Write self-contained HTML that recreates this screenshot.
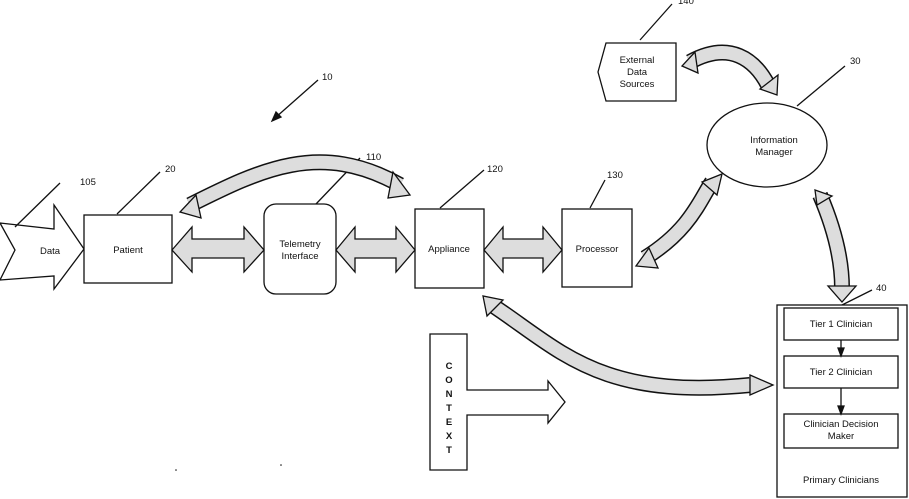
<!DOCTYPE html>
<html><head><meta charset="utf-8"><style>
html,body{margin:0;padding:0;background:#fff}
svg{display:block;font-family:"Liberation Sans",sans-serif}
text{font-size:9.5px;fill:#111}
</style></head><body>
<svg width="909" height="499" viewBox="0 0 909 499" xmlns="http://www.w3.org/2000/svg">
<g stroke="#111" stroke-width="1.3" fill="none">
<!-- Data arrow -->
<polygon points="0,223 54,229 54,205 84,249 54,289 54,276 0,280 15,250" fill="#fff"/>
<!-- leader lines -->
<line x1="15" y1="227" x2="60" y2="183"/>
<line x1="117" y1="214" x2="160" y2="172"/>
<line x1="316" y1="204" x2="360" y2="158"/>
<line x1="440" y1="208" x2="484" y2="170"/>
<line x1="590" y1="208" x2="605" y2="180"/>
<line x1="797" y1="106" x2="845" y2="66"/>
<line x1="840" y1="306" x2="872" y2="290"/>
<line x1="640" y1="40" x2="672" y2="4"/>
<line x1="318" y1="80" x2="275" y2="118"/>
<polygon points="272,121 276,112 281,117" fill="#111"/>
<!-- boxes -->
<rect x="84" y="215" width="88" height="68" fill="#fff"/>
<rect x="264" y="204" width="72" height="90" rx="12" fill="#fff"/>
<rect x="415" y="209" width="69" height="79" fill="#fff"/>
<rect x="562" y="209" width="70" height="78" fill="#fff"/>
<ellipse cx="767" cy="145" rx="60" ry="42" fill="#fff"/>
<polygon points="606,43 676,43 676,101 606,101 598,72" fill="#fff"/>
<rect x="777" y="305" width="130" height="192" fill="#fff"/>
<rect x="784" y="308" width="114" height="32" fill="#fff"/>
<rect x="784" y="356" width="114" height="32" fill="#fff"/>
<rect x="784" y="414" width="114" height="34" fill="#fff"/>
<line x1="841" y1="340" x2="841" y2="350"/>
<polygon points="838,348 844,348 841,356" fill="#111"/>
<line x1="841" y1="388" x2="841" y2="408"/>
<polygon points="838,406 844,406 841,414" fill="#111"/>
<!-- CONTEXT T -->
<polygon points="430,334 467,334 467,390 548,390 548,381 565,402 548,423 548,415 467,415 467,470 430,470" fill="#fff"/>
<!-- straight double arrows -->
<polygon points="172,250 192,227 192,239 244,239 244,227 264,250 244,272 244,258 192,258 192,272" fill="#ddd"/>
<polygon points="336,250 355,227 355,239 396,239 396,227 415,250 396,272 396,258 355,258 355,272" fill="#ddd"/>
<polygon points="484,250 503,227 503,239 543,239 543,227 562,250 543,272 543,258 503,258 503,272" fill="#ddd"/>
</g>
<!-- curved arrows: outline + fill -->
<g fill="none" stroke-linecap="butt">
<path id="a1" d="M190,205 C260,170 320,140 400,185"/>
<path id="a2" d="M645,258 C690,230 700,200 712,182"/>
<path id="a3" d="M690,62 C730,40 755,60 768,85"/>
<path id="a4" d="M820,195 C835,230 842,260 842,288"/>
<path id="a5" d="M492,305 C560,350 600,400 750,385"/>
</g>
<g fill="none" stroke="#111" stroke-width="16">
<use href="#a1"/><use href="#a2"/><use href="#a3"/><use href="#a4"/><use href="#a5"/>
</g>
<g fill="none" stroke="#ddd" stroke-width="13">
<use href="#a1"/><use href="#a2"/><use href="#a3"/><use href="#a4"/><use href="#a5"/>
</g>
<g stroke="#111" stroke-width="1.3" fill="#ddd">
<polygon points="196,195 180,212 201,218"/>
<polygon points="393,172 410,195 388,198"/>
<polygon points="649,248 636,266 658,268"/>
<polygon points="702,182 722,174 717,195"/>
<polygon points="695,52 682,66 698,73"/>
<polygon points="760,89 777,95 778,75"/>
<polygon points="817,205 815,190 832,196"/>
<polygon points="828,286 856,286 842,302"/>
<polygon points="487,316 483,296 503,300"/>
<polygon points="750,375 773,385 750,395"/>
</g>
<!-- labels -->
<text x="322" y="80">10</text>
<text x="80" y="185">105</text>
<text x="165" y="172">20</text>
<text x="366" y="160">110</text>
<text x="487" y="172">120</text>
<text x="607" y="178">130</text>
<text x="850" y="64">30</text>
<text x="876" y="291">40</text>
<text x="678" y="4">140</text>
<text x="40" y="254">Data</text>
<text x="128" y="253" text-anchor="middle">Patient</text>
<text x="300" y="247" text-anchor="middle">Telemetry</text>
<text x="300" y="259" text-anchor="middle">Interface</text>
<text x="449" y="252" text-anchor="middle">Appliance</text>
<text x="597" y="252" text-anchor="middle">Processor</text>
<text x="774" y="143" text-anchor="middle">Information</text>
<text x="774" y="155" text-anchor="middle">Manager</text>
<text x="637" y="63" text-anchor="middle">External</text>
<text x="637" y="75" text-anchor="middle">Data</text>
<text x="637" y="87" text-anchor="middle">Sources</text>
<text x="841" y="327" text-anchor="middle">Tier 1 Clinician</text>
<text x="841" y="375" text-anchor="middle">Tier 2 Clinician</text>
<text x="841" y="427" text-anchor="middle">Clinician Decision</text>
<text x="841" y="439" text-anchor="middle">Maker</text>
<text x="841" y="483" text-anchor="middle">Primary Clinicians</text>
<g font-weight="bold" text-anchor="middle">
<text x="449" y="369">C</text><text x="449" y="383">O</text><text x="449" y="397">N</text>
<text x="449" y="411">T</text><text x="449" y="425">E</text><text x="449" y="439">X</text><text x="449" y="453">T</text>
</g>
<circle cx="176" cy="470" r="0.8" fill="#111"/>
<circle cx="281" cy="465" r="0.8" fill="#111"/>
</svg>
</body></html>
